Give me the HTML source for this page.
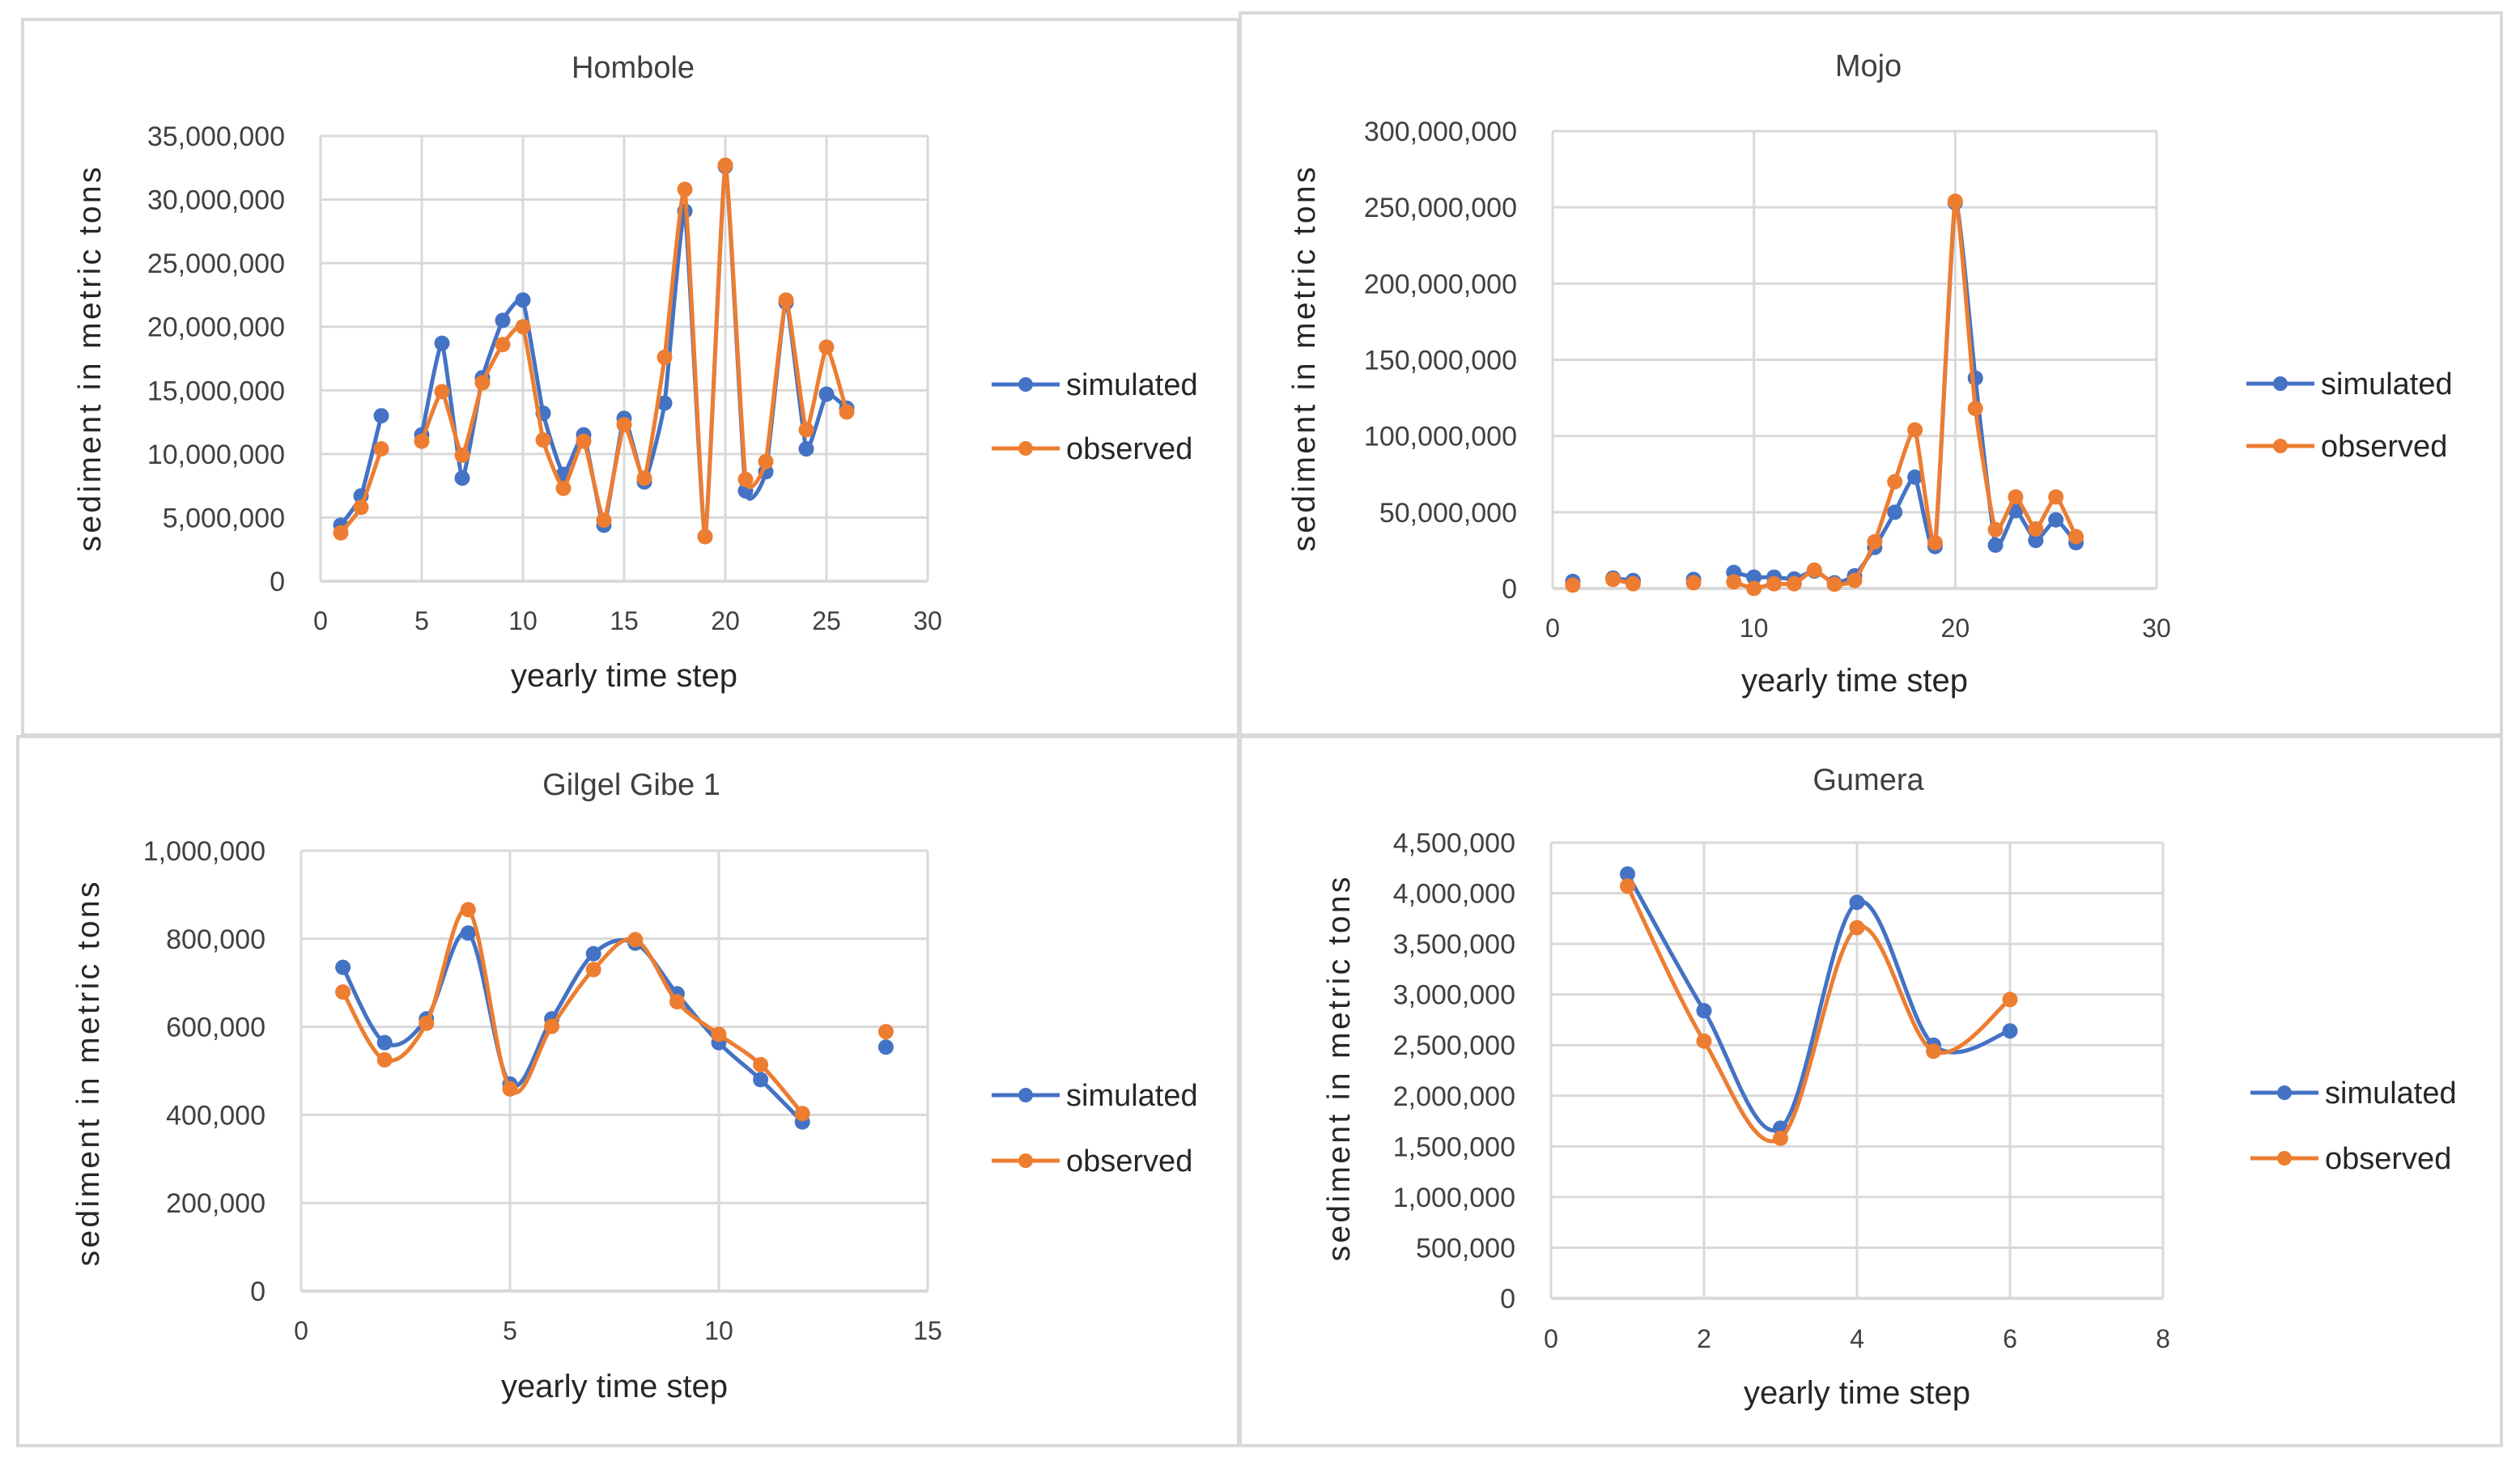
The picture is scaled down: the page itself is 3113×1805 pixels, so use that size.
<!DOCTYPE html>
<html><head><meta charset="utf-8">
<style>
html,body{margin:0;padding:0;background:#fff;}
svg{display:block;font-family:"Liberation Sans",sans-serif;}
</style></head>
<body>
<svg id="chart" width="3113" height="1805" viewBox="0 0 3113 1805" xmlns="http://www.w3.org/2000/svg">
<rect x="0" y="0" width="3113" height="1805" fill="#fff"/>
</svg>
<script>
const homboleX=[1,2,3,4,5,6,7,8,9,10,11,12,13,14,15,16,17,18,19,20,21,22,23,24,25,26];
const homboleSim=[4.4,6.7,13.0,null,11.5,18.7,8.1,16.0,20.5,22.1,13.2,8.4,11.5,4.4,12.8,7.8,14.0,29.1,3.5,32.6,7.1,8.6,21.9,10.4,14.7,13.6];
const homboleObs=[3.8,5.8,10.4,null,11.0,14.9,9.9,15.6,18.6,20.0,11.1,7.3,11.0,4.8,12.3,8.1,17.6,30.8,3.5,32.7,8.0,9.4,22.1,11.9,18.4,13.3];
const homboleYTicks=["0","5,000,000","10,000,000","15,000,000","20,000,000","25,000,000","30,000,000","35,000,000"];
const homboleXTicks=["0","5","10","15","20","25","30"];

const mojoX=[1,2,3,4,5,6,7,8,9,10,11,12,13,14,15,16,17,18,19,20,21,22,23,24,25,26];
const mojoSim=[4.6,null,6.8,5.2,null,null,5.9,null,10.5,7.4,7.4,6.2,11.4,3.7,8.3,26.9,50,73,27.5,253,138,28.4,51,31.5,45,30];
const mojoObs=[2.2,null,5.9,3.1,null,null,3.7,null,4.3,0,3.1,3.1,12,2.8,5.2,30.6,70,104,30,254,118,38.6,60,39,60,34];
const mojoYTicks=["0","50,000,000","100,000,000","150,000,000","200,000,000","250,000,000","300,000,000"];
const mojoXTicks=["0","10","20","30"];

const gibeX=[1,2,3,4,5,6,7,8,9,10,11,12,13,14];
const gibeSim=[735,564,618,813,470,618,766,790,675,564,480,384,null,554];
const gibeObs=[679,525,608,866,459,601,730,798,657,583,514,403,null,589];
const gibeYTicks=["0","200,000","400,000","600,000","800,000","1,000,000"];
const gibeXTicks=["0","5","10","15"];

const gumeraX=[1,2,3,4,5,6];
const gumeraSim=[4.19,2.84,1.68,3.91,2.50,2.64];
const gumeraObs=[4.07,2.54,1.58,3.66,2.44,2.95];
const gumeraYTicks=["0","500,000","1,000,000","1,500,000","2,000,000","2,500,000","3,000,000","3,500,000","4,000,000","4,500,000"];
const gumeraXTicks=["0","2","4","6","8"];

const svg=document.getElementById('chart');
const NS='http://www.w3.org/2000/svg';
function mk(tag,attrs,parent){const e=document.createElementNS(NS,tag);for(const k in attrs)e.setAttribute(k,attrs[k]);(parent||svg).appendChild(e);return e;}

const frames=[[28,24,1502,884],[1532,16,1558,892],[22,910,1508,876],[1532,910,1558,876]];
frames.forEach(f=>{const r=mk('rect',{x:f[0],y:f[1],width:f[2],height:f[3],fill:'none',stroke:'#d9d9d9','stroke-width':4});

});

function smoothPath(pts,t){
  if(pts.length===1) return '';
  let d='M'+pts[0][0]+','+pts[0][1];
  for(let i=0;i<pts.length-1;i++){
    const p0=pts[Math.max(0,i-1)],p1=pts[i],p2=pts[i+1],p3=pts[Math.min(pts.length-1,i+2)];
    const c1x=p1[0]+(p2[0]-p0[0])*t,c1y=p1[1]+(p2[1]-p0[1])*t;
    const c2x=p2[0]-(p3[0]-p1[0])*t,c2y=p2[1]-(p3[1]-p1[1])*t;
    d+=' C'+c1x+','+c1y+' '+c2x+','+c2y+' '+p2[0]+','+p2[1];
  }
  return d;
}

function drawChart(c){
  const g=mk('g',{});
  
  
  const xs=v=>c.px0+(v-c.xmin)/(c.xmax-c.xmin)*(c.px1-c.px0);
  const ys=v=>c.py1-(v/c.ymax)*(c.py1-c.py0);
  const nY=c.yTicks.length-1;
  for(let i=0;i<=nY;i++){
    const v=c.ymax*i/nY,y=ys(v);
    const ln=mk('line',{x1:c.px0,x2:c.px1,y1:y,y2:y,stroke:'#d9d9d9','stroke-width':i===0?4:3},g);
    
    
    const t=mk('text',{x:c.px0-44,y:y+12,'text-anchor':'end','font-size':34,fill:'#404040'},g);
    
    
    t.textContent=c.yTicks[i];
  }
  const nX=c.xTicks.length-1;
  for(let i=0;i<=nX;i++){
    const v=c.xmin+(c.xmax-c.xmin)*i/nX,x=xs(v);
    const ln=mk('line',{x1:x,x2:x,y1:c.py0,y2:c.py1,stroke:'#d9d9d9','stroke-width':3},g);
    
    
    const t=mk('text',{x:x,y:c.xtickY,'text-anchor':'middle','font-size':32,fill:'#404040'},g);
    
    
    t.textContent=c.xTicks[i];
  }
  const tt=mk('text',{x:c.titleX,y:c.titleY,'text-anchor':'middle','font-size':38,fill:'#404040'},g);
  
  
  tt.textContent=c.title;
  const xt=mk('text',{x:(c.px0+c.px1)/2,y:c.xtitleY,'text-anchor':'middle','font-size':40,fill:'#262626'},g);
  
  
  xt.textContent='yearly time step';
  const yt=mk('text',{x:0,y:0,'text-anchor':'middle','font-size':39,fill:'#262626',textLength:475,lengthAdjust:'spacing',transform:'translate('+c.ytitleX+','+c.ytitleY+') rotate(-90)'},g);
  
  
  yt.textContent='sediment  in metric tons';
  const series=[[c.sim,'#4472C4','simulated'],[c.obs,'#ED7D31','observed']];
  series.forEach((s,si)=>{
    let segs=[],cur=[];
    c.x.forEach((xv,i)=>{const v=s[0][i];if(v===null||v===undefined){if(cur.length)segs.push(cur);cur=[];}else cur.push([xs(xv),ys(v)]);});
    if(cur.length)segs.push(cur);
    segs.forEach(sg=>{const d=smoothPath(sg,c.tension);if(d){const p=mk('path',{d:d,fill:'none',stroke:s[1],'stroke-width':5,'stroke-linejoin':'round'},g);
      
      }});
    c.x.forEach((xv,i)=>{const v=s[0][i];if(v===null||v===undefined)return;
      const m=mk('circle',{cx:xs(xv),cy:ys(v),r:9.5,fill:s[1]},g);
      
      });
    const ly=c.legY[si];
    const ll=mk('line',{x1:c.legX,x2:c.legX+84,y1:ly,y2:ly,stroke:s[1],'stroke-width':5},g);
    
    
    const lc=mk('circle',{cx:c.legX+42,cy:ly,r:9,fill:s[1]},g);
    
    
    const lt=mk('text',{x:c.legX+92,y:ly+13,'font-size':38,fill:'#262626'},g);
    
    
    lt.textContent=s[2];
  });
}

drawChart({name:'hombole-chart',title:'Hombole',x:homboleX,sim:homboleSim,obs:homboleObs,yTicks:homboleYTicks,xTicks:homboleXTicks,tension:0.07,
  xmin:0,xmax:30,ymax:35,px0:396,px1:1146,py0:168,py1:718,xtickY:778,xtitleY:848,titleX:782,titleY:96,ytitleX:124,ytitleY:444,legX:1225,legY:[475,554]});
drawChart({name:'mojo-chart',title:'Mojo',x:mojoX,sim:mojoSim,obs:mojoObs,yTicks:mojoYTicks,xTicks:mojoXTicks,tension:0.08,
  xmin:0,xmax:30,ymax:300,px0:1918,px1:2664,py0:162,py1:727,xtickY:787,xtitleY:854,titleX:2308,titleY:94,ytitleX:1624,ytitleY:444,legX:2775,legY:[474,551]});
drawChart({name:'gilgel-gibe-chart',title:'Gilgel Gibe 1',x:gibeX,sim:gibeSim,obs:gibeObs,yTicks:gibeYTicks,xTicks:gibeXTicks,tension:1/6,
  xmin:0,xmax:15,ymax:1000,px0:372,px1:1146,py0:1051,py1:1595,xtickY:1655,xtitleY:1726,titleX:780,titleY:982,ytitleX:122,ytitleY:1327,legX:1225,legY:[1353,1434]});
drawChart({name:'gumera-chart',title:'Gumera',x:gumeraX,sim:gumeraSim,obs:gumeraObs,yTicks:gumeraYTicks,xTicks:gumeraXTicks,tension:1/6,
  xmin:0,xmax:8,ymax:4.5,px0:1916,px1:2672,py0:1041,py1:1604,xtickY:1665,xtitleY:1734,titleX:2308,titleY:976,ytitleX:1667,ytitleY:1321,legX:2780,legY:[1350,1431]});
</script>
</body></html>
